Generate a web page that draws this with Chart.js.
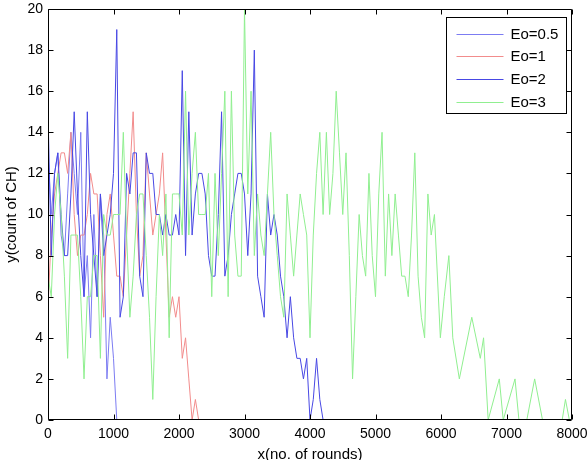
<!DOCTYPE html>
<html>
<head>
<meta charset="utf-8">
<script src="https://cdn.jsdelivr.net/npm/chart.js@4.4.1/dist/chart.umd.min.js"></script>
<style>
  html, body { margin: 0; padding: 0; background: #fff; }
  #wrap { width: 587px; height: 460px; }
</style>
</head>
<body>
<div id="wrap"><canvas id="chart" width="587" height="460"></canvas></div>
<script>
// rounds sampled every 50 (shared grid for the first part of each run)
const rounds = [
  0, 50, 100, 150, 200, 250, 300, 350, 400, 450,
  500, 550, 600, 650, 700, 750, 800, 850, 900, 950,
  1000, 1050, 1100, 1150, 1200, 1250, 1300, 1350, 1400, 1450,
  1500, 1550, 1600, 1650, 1700, 1750, 1800, 1850, 1900, 1950,
  2000, 2050, 2100, 2150, 2200, 2250, 2300, 2350, 2400, 2450,
  2500, 2550, 2600, 2650, 2700, 2750, 2800, 2850, 2900, 2950,
  3000, 3050, 3100, 3150, 3200, 3250, 3300, 3350, 3400, 3450,
  3500, 3550, 3600, 3650, 3700, 3750, 3800, 3850, 3900, 3950,
  4000, 4050, 4100, 4150, 4200, 4250, 4300, 4350, 4400, 4450,
  4500, 4550, 4600, 4650, 4700, 4750, 4800, 4850, 4900, 4950,
  5000, 5050, 5100, 5150, 5200, 5250, 5300, 5350, 5400, 5450,
  5500, 5550, 5600, 5650, 5700, 5750, 5800, 5850, 5900
];

const labels = ['Eo=0.5', 'Eo=1', 'Eo=2', 'Eo=3'];

const eo05 = [13, 10, 12, 13, 9, 8, 11, 14, 12, 10, 14, 6, 8, 4, 10, 6, 11, 9, 2, 5, 3, 0];

const eo1 = [5.5, 9, 11, 12, 13, 13, 12, 14, 10, 8,
  9, 9, 10, 12, 11, 11, 8, 5, 10, 11,
  9, 7, 7, 6, 9, 12, 15, 10, 7, 8,
  13, 11, 9, 10, 11, 13, 9, 5, 6, 5,
  6, 3, 4, 2, 0, 1, 0];

const eo2 = [15, 8, 12, 13, 10, 8, 8, 11, 15, 11,
  8, 6, 15, 10, 8, 6, 11, 8, 9, 10,
  12, 19, 5, 6, 12, 11, 13, 13, 7, 6,
  13, 12, 12, 10, 10, 9, 10, 9, 9, 10,
  9, 17, 8, 15, 9, 11, 12, 12, 11, 8,
  7, 7, 10, 15, 7, 8, 10, 11, 12, 12,
  11, 8, 11, 18, 7, 6, 5, 11, 9, 10,
  9, 7, 6, 4, 6, 4, 3, 3, 2, 3,
  0, 1, 3, 1, 0];

const eo3 = [7, 6, 10, 12, 10, 7, 3, 9, 9, 9,
  6, 2, 6, 6, 8, 8, 3, 10, 9, 9,
  10, 10, 10, 14, 9, 5, 7, 10, 11, 11,
  8, 5, 1, 6, 10, 8, 11, 4, 11, 11,
  11, 9, 16, 9, 12, 14, 10, 10, 10, 12,
  6, 12, 8, 12, 16, 6, 16, 9, 7, 7,
  20, 11, 16, 8, 11, 9, 8, 11, 14, 10,
  8, 6, 5, 11, 9, 7, 9, 11, 10, 9,
  4, 9, 12, 14, 10, 14, 10, 12, 16, 13,
  10, 13, 8, 2, 6, 10, 8, 7, 12, 8,
  6, 11, 14, 7, 11, 8, 11, 9, 7, 7,
  6, 9, 13, 7, 5, 4, 11, 9, 10];

// tail of Eo=3 read vertex by vertex
const eo3TailX = [5990, 6050, 6120, 6180, 6280, 6470, 6600, 6650, 6720, 6890, 6950, 7130, 7190, 7310, 7430, 7550, 7850, 7900, 7960, 8000];
const eo3TailY = [4, 6, 8, 4, 2, 5, 3, 4, 0, 2, 0, 2, 0, 0, 2, 0, 0, 1, 0, 0];

const xTicks = [0, 1000, 2000, 3000, 4000, 5000, 6000, 7000, 8000];
const yTicks = [0, 2, 4, 6, 8, 10, 12, 14, 16, 18, 20];

const colors = ['#7c7cf2', '#f28c8c', '#4848e4', '#90ef90'];

function toPoints(vals, tailX, tailY) {
  let pts = vals.map((v, i) => ({ x: rounds[i], y: v }));
  for (let i = 0; i < tailX.length; i++) pts.push({ x: tailX[i], y: tailY[i] });
  return pts;
}

const series = [
  toPoints(eo05, [8000], [0]),
  toPoints(eo1, [8000], [0]),
  toPoints(eo2, [8000], [0]),
  toPoints(eo3, eo3TailX, eo3TailY)
];

const fontFamily = '"Liberation Sans", Arial, sans-serif';

// MATLAB style box, inward ticks and legend
const matlabFrame = {
  id: 'matlabFrame',
  afterDatasetsDraw(chart) {
    const ctx = chart.ctx;
    const a = chart.chartArea;
    const sx = chart.scales.x, sy = chart.scales.y;
    const L = Math.round(a.left) + 0.5, R = Math.round(a.right) - 0.5;
    const T = Math.round(a.top) + 0.5, B = Math.round(a.bottom) - 0.5;
    ctx.save();
    ctx.strokeStyle = '#000';
    ctx.lineWidth = 1;
    ctx.beginPath();
    ctx.rect(L, T, R - L, B - T);
    xTicks.forEach(v => {
      const px = Math.round(sx.getPixelForValue(v)) + 0.5;
      ctx.moveTo(px, B); ctx.lineTo(px, B - 5);
      ctx.moveTo(px, T); ctx.lineTo(px, T + 5);
    });
    yTicks.forEach(v => {
      const py = Math.round(sy.getPixelForValue(v)) + 0.5;
      ctx.moveTo(L, py); ctx.lineTo(L + 5, py);
      ctx.moveTo(R, py); ctx.lineTo(R - 5, py);
    });
    ctx.stroke();

    // legend
    const w = 120, h = 96;
    const bx = Math.round(a.right) - 6 - w + 0.5;
    const by = Math.round(a.top) + 8 + 0.5;
    ctx.fillStyle = '#fff';
    ctx.fillRect(bx, by, w, h);
    ctx.strokeRect(bx, by, w, h);
    ctx.font = '15px ' + fontFamily;
    ctx.textBaseline = 'middle';
    chart.data.datasets.forEach((ds, i) => {
      const y = Math.round(by + 16 + i * 22.8) + 0.5;
      ctx.strokeStyle = ds.borderColor;
      ctx.beginPath();
      ctx.moveTo(bx + 10, y);
      ctx.lineTo(bx + 57, y);
      ctx.stroke();
      ctx.fillStyle = '#000';
      ctx.fillText(ds.label, bx + 64, y);
    });
    ctx.restore();
  }
};

new Chart(document.getElementById('chart'), {
  type: 'line',
  data: {
    datasets: series.map((pts, i) => ({
      label: labels[i],
      data: pts,
      borderColor: colors[i],
      borderWidth: 1,
      pointRadius: 0,
      tension: 0,
      fill: false,
      order: 3 - i
    }))
  },
  options: {
    responsive: false,
    animation: false,
    layout: { padding: { left: 0, right: 15, top: 9, bottom: 0 } },
    plugins: {
      legend: { display: false },
      tooltip: { enabled: false }
    },
    scales: {
      x: {
        type: 'linear',
        min: 0,
        max: 8000,
        grid: { display: false, drawTicks: false },
        border: { display: false },
        afterBuildTicks: s => { s.ticks = xTicks.map(v => ({ value: v })); },
        afterFit: s => { s.height = 40; s.paddingLeft = 0; s.paddingRight = 0; },
        ticks: {
          autoSkip: false,
          maxRotation: 0,
          padding: 6,
          color: '#000',
          font: { family: fontFamily, size: 14 },
          callback: v => String(v)
        },
        title: {
          display: true,
          text: 'x(no. of rounds)',
          color: '#000',
          padding: { top: 0, bottom: -4 },
          font: { family: fontFamily, size: 15 }
        }
      },
      y: {
        min: 0,
        max: 20,
        grid: { display: false, drawTicks: false },
        border: { display: false },
        afterBuildTicks: s => { s.ticks = yTicks.map(v => ({ value: v })); },
        afterFit: s => { s.width = 48; s.paddingTop = 0; s.paddingBottom = 0; },
        ticks: {
          padding: 5,
          color: '#000',
          font: { family: fontFamily, size: 14 },
          callback: v => String(v)
        },
        title: {
          display: true,
          text: 'y(count of CH)',
          color: '#000',
          padding: { top: 3, bottom: 0 },
          font: { family: fontFamily, size: 15 }
        }
      }
    }
  },
  plugins: [matlabFrame]
});
</script>
</body>
</html>
